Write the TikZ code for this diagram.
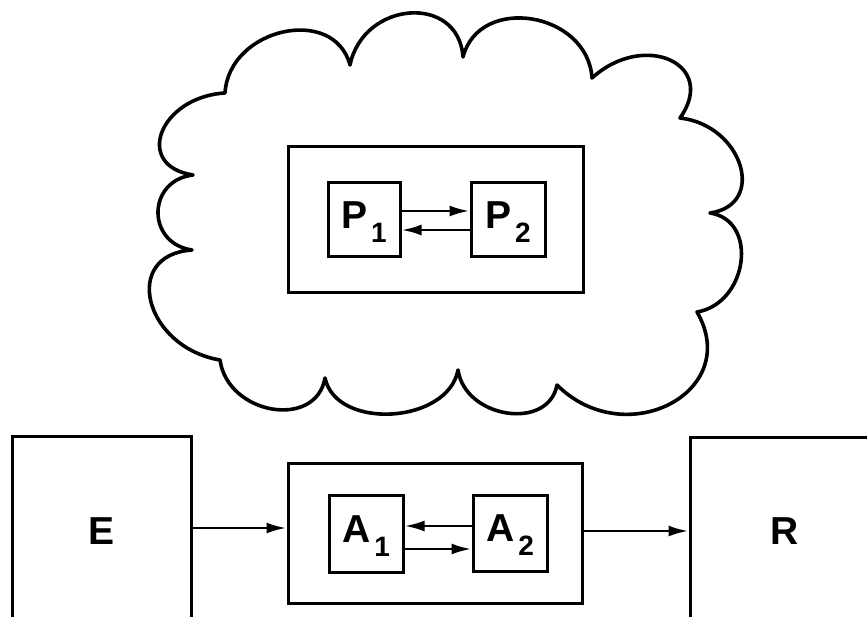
\documentclass[tikz,border=0pt]{standalone}
\usepackage{fontspec}
\setmainfont{Liberation Sans}
\usetikzlibrary{arrows.meta,calc}

% one rounded bulge of the cloud, from cusp #1 through the far point #2 to cusp #3
\newcommand\cloudlobe[3]{.. controls ($0.2533*(#1)+1.3333*(#2)-0.5867*(#3)$) and ($0.2533*(#3)+1.3333*(#2)-0.5867*(#1)$) .. (#3)}
% letter with a lowered index
\newcommand\idx[2]{#1\kern4pt\smash{\raisebox{-14pt}{\fontsize{28}{28}\selectfont #2}}}

\tikzset{
  box/.style={draw, line width=3pt, inner sep=0pt},
  agent/.style={box, minimum width=74pt, minimum height=75pt, text depth=9pt,
                font=\fontsize{39}{39}\selectfont\bfseries},
  frame/.style={box},
  outside/.style={box, font=\fontsize{39}{39}\selectfont\bfseries},
  arr/.style={line width=2.8pt, -{Latex[length=20pt,width=11pt]}},
  cloudline/.style={line width=3.6pt, line join=round},
}

\begin{document}
\begin{tikzpicture}[x=1pt, y=-1pt]
  \useasboundingbox (0,0) rectangle (867,617);

  % cloud
  \draw[cloudline] (225,93)
    \cloudlobe{225,93}{283,32}{350,65}
    \cloudlobe{350,65}{410,13}{463,57}
    \cloudlobe{463,57}{532,19}{592,78}
    \cloudlobe{592,78}{670,60}{680,118}
    \cloudlobe{680,118}{740,165}{710,213}
    \cloudlobe{710,213}{741,262}{697,312}
    \cloudlobe{697,312}{670,404}{557,385}
    \cloudlobe{557,385}{507,413}{458,370}
    \cloudlobe{458,370}{392,414}{325,378}
    \cloudlobe{325,378}{272,409}{220,360}
    \cloudlobe{220,360}{151,302}{192,250}
    \cloudlobe{192,250}{158,212}{193,175}
    \cloudlobe{193,175}{162,132}{225,93}
    -- cycle;

  % upper system
  \node[frame, minimum width=295pt, minimum height=146pt] (Pout) at (435.5,220) {};
  \node[agent, minimum width=72pt, minimum height=74pt] (P1) at (364,220) {\idx{P}{1}};
  \node[agent, minimum height=74pt] (P2) at (508,220) {\idx{P}{2}};
  \draw[arr] (P1.east |- 0,211) -- (P2.west |- 0,211);
  \draw[arr] (P2.west |- 0,230) -- (P1.east |- 0,230);

  % lower system
  \node[frame, minimum width=294pt, minimum height=140pt] (Aout) at (435,533) {};
  \node[agent, minimum height=77pt] (A1) at (366,533.5) {\idx{A}{1}};
  \node[agent, minimum height=76pt] (A2) at (510,533) {\idx{A}{2}};
  \draw[arr] (A2.west |- 0,526) -- (A1.east |- 0,526);
  \draw[arr] (A1.east |- 0,549) -- (A2.west |- 0,549);

  % surroundings
  \node[outside, minimum width=179pt, minimum height=190pt] (E) at (101.5,531) {E};
  \node[outside, minimum width=190pt, minimum height=188pt] (R) at (785,531) {R};
  \draw[arr] (E.east |- 0,528) -- (Aout.west |- 0,528);
  \draw[arr] (Aout.east |- 0,531) -- (R.west |- 0,531);
\end{tikzpicture}
\end{document}
